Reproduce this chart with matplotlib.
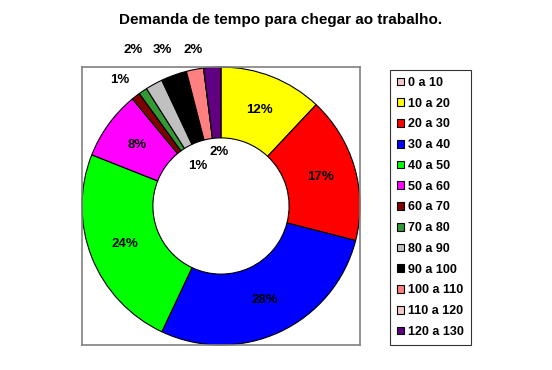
import numpy as np
import matplotlib
matplotlib.use('Agg')
import matplotlib.pyplot as plt
from matplotlib.patches import Patch

plt.rcParams['font.family'] = ['Liberation Sans', 'DejaVu Sans']

# data
categories = ['0 a 10', '10 a 20', '20 a 30', '30 a 40', '40 a 50', '50 a 60', '60 a 70',
              '70 a 80', '80 a 90', '90 a 100', '100 a 110', '110 a 120', '120 a 130']
values = [0, 12, 17, 28, 24, 8, 1, 1, 2, 3, 2, 0, 2]
colors = ['#ffffff', '#ffff00', '#ff0000', '#0000ff', '#00ff00', '#ff00ff', '#800000',
          '#339933', '#c0c0c0', '#000000', '#ff8080', '#ffffff', '#600080']
# Excel moved labels of the thin slices away from the ring
small_label_pos = {6: (-0.73, 0.91), 7: (-0.17, 0.29), 8: (-0.63, 1.12),
                   9: (-0.42, 1.12), 10: (-0.20, 1.12), 12: (-0.01, 0.39)}

fig = plt.figure(figsize=(5.52, 3.70), dpi=100)
ax = fig.add_axes([82/552, 1 - 345/370, 278/552, 278/370])

wedges, _ = ax.pie(values, colors=colors, startangle=90, counterclock=False,
                   radius=1.0, frame=True,
                   wedgeprops=dict(width=0.51, edgecolor='black', linewidth=0.8))
ax.set_xlim(-1, 1)
ax.set_ylim(-1, 1)
ax.set_xticks([])
ax.set_yticks([])
for s in ax.spines.values():
    s.set_color('#808080')
    s.set_linewidth(1.2)

total = sum(values)
for i, (w, v) in enumerate(zip(wedges, values)):
    if v == 0:
        continue
    txt = f'{round(100 * v / total)}%'
    if i in small_label_pos:
        x, y = small_label_pos[i]
    else:
        ang = np.deg2rad((w.theta1 + w.theta2) / 2)
        x, y = 0.745 * np.cos(ang), 0.745 * np.sin(ang)
    ax.text(x, y, txt, ha='center', va='center', fontsize=9.5, fontweight='bold',
            clip_on=False)

fig.text(281/552, 1 - 20/370, 'Demanda de tempo para chegar ao trabalho.',
         ha='center', va='center', fontsize=11, fontweight='bold')

handles = []
for c, v in zip(colors, values):
    fc = '#f4c8c8' if v == 0 else c
    handles.append(Patch(facecolor=fc, edgecolor='black', linewidth=0.8))
leg = fig.legend(handles, categories, loc='upper left',
                 bbox_to_anchor=(390/552, 1 - 70/370), frameon=True, fancybox=False,
                 prop=dict(size=9, weight='bold'), handlelength=0.6, handleheight=0.6,
                 handletextpad=0.3, labelspacing=0.70, borderpad=0.55, borderaxespad=0)
leg.get_frame().set_edgecolor('black')
leg.get_frame().set_linewidth(0.8)

fig.savefig('out.png', dpi=100)
